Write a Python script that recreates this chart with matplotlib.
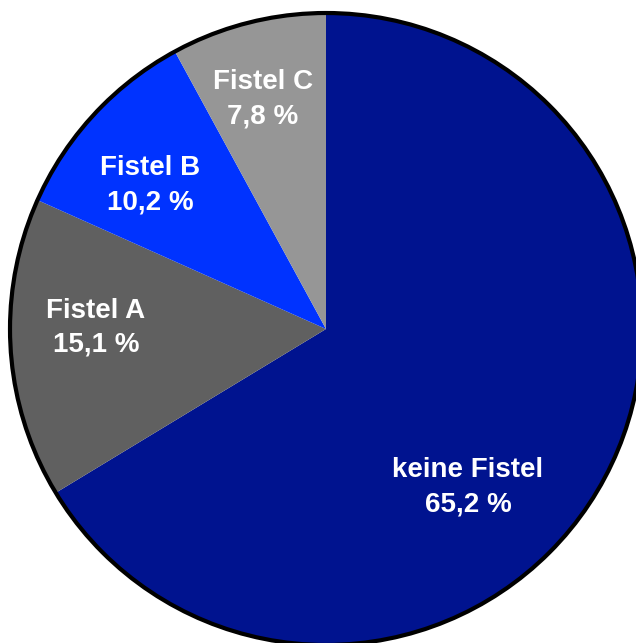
import matplotlib
matplotlib.use('Agg')
import matplotlib.pyplot as plt
from matplotlib.patches import Circle

labels = ['keine Fistel', 'Fistel A', 'Fistel B', 'Fistel C']
shares = [65.2, 15.1, 10.2, 7.8]
colors = ['#00138F', '#606060', '#0033FF', '#969696']

W, H = 636, 643
fig = plt.figure(figsize=(W / 100, H / 100), dpi=100)
ax = fig.add_axes([0, 0, 1, 1])

cx, cy, r = 326, H - 329, 316
ax.pie(shares, colors=colors, startangle=90, counterclock=False,
       center=(cx, cy), radius=r, wedgeprops=dict(linewidth=0))
ax.add_patch(Circle((cx, cy), r, fc='none', ec='black', lw=3, zorder=5))

# label block centres in pixel coordinates (from the top-left)
label_pos = [(468, 487), (96, 328), (150, 185), (263, 99)]
for lab, val, (x, y) in zip(labels, shares, label_pos):
    ax.text(x, H - y, f'{lab}\n{val:.1f} %'.replace('.', ','),
            ha='center', va='center', color='white', fontsize=20,
            fontweight='bold', family='Liberation Sans', linespacing=1.4,
            zorder=6)

ax.set_xlim(0, W)
ax.set_ylim(0, H)
ax.set_aspect('equal')
ax.axis('off')

fig.savefig('out.png', dpi=100, facecolor='white')
